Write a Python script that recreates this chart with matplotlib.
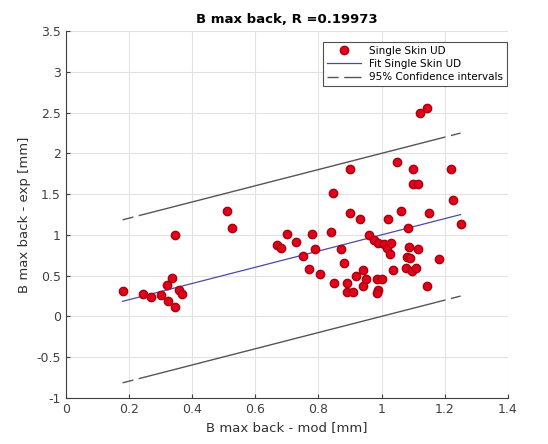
import numpy as np
import matplotlib.pyplot as plt

# measured points: model (x) vs experiment (y)
x_mod = [0.18, 0.245, 0.27, 0.30, 0.32, 0.335, 0.325, 0.345, 0.36, 0.368, 0.345,
         0.51, 0.525,
         0.67, 0.68, 0.70, 0.73, 0.75, 0.77, 0.78, 0.79, 0.805, 0.84, 0.845, 0.85,
         0.87, 0.88, 0.89, 0.89, 0.91, 0.90, 0.90, 0.92, 0.94, 0.94, 0.93, 0.95,
         0.96, 0.975, 0.985, 1.0, 0.99, 1.006, 0.99, 0.985, 1.017, 1.025, 1.03,
         1.02, 1.035, 1.05, 1.06, 1.085, 1.088, 1.115, 1.08, 1.09, 1.078, 1.095,
         1.11, 1.10, 1.10, 1.115, 1.145, 1.15, 1.18, 1.12, 1.145, 1.225, 1.22,
         1.25]
y_exp = [0.31, 0.27, 0.24, 0.26, 0.38, 0.47, 0.19, 0.12, 0.32, 0.27, 1.0,
         1.29, 1.08,
         0.88, 0.84, 1.01, 0.91, 0.74, 0.58, 1.01, 0.83, 0.52, 1.03, 1.51, 0.41,
         0.82, 0.65, 0.41, 0.30, 0.30, 1.81, 1.27, 0.50, 0.57, 0.37, 1.19, 0.46,
         1.00, 0.94, 0.46, 0.46, 0.90, 0.89, 0.32, 0.29, 0.84, 0.77, 0.90,
         1.19, 0.57, 1.89, 1.29, 1.08, 0.85, 0.82, 0.73, 0.71, 0.59, 0.56,
         0.59, 1.81, 1.62, 1.62, 0.37, 1.27, 0.70, 2.49, 2.56, 1.43, 1.81,
         1.13]

# fit and confidence band
fit_slope = 0.995
fit_intercept = 0.005
ci_half = 1.0

x_mod = np.array(x_mod)
y_exp = np.array(y_exp)
xf = np.array([x_mod.min(), x_mod.max()])
yf = fit_slope * xf + fit_intercept

fig = plt.figure(figsize=(5.48, 4.44), dpi=100)
ax = fig.add_axes([0.120, 0.104, 0.807, 0.826])

ax.plot(x_mod, y_exp, 'o', color='#e3001b', markeredgecolor='#a8000f',
        markersize=6, label='Single Skin UD', zorder=3)
ax.plot(xf, yf, color='#4a4aa8', linewidth=0.9, label='Fit Single Skin UD')
ax.plot(xf, yf + ci_half, color='#555555', linewidth=1.0,
        dashes=(8, 4, 228, 4), label='95% Confidence intervals')
ax.plot(xf, yf - ci_half, color='#555555', linewidth=1.0,
        dashes=(8, 4, 228, 4))

ax.set_xlim(0, 1.4)
ax.set_ylim(-1, 3.5)
ax.set_xticks(np.arange(0, 1.41, 0.2))
ax.set_xticklabels(['0', '0.2', '0.4', '0.6', '0.8', '1', '1.2', '1.4'])
ax.set_yticks(np.arange(-1, 3.51, 0.5))
ax.set_yticklabels(['-1', '-0.5', '0', '0.5', '1', '1.5', '2', '2.5', '3', '3.5'])
ax.grid(True, color='#e2e2e2', linewidth=0.8)
ax.set_axisbelow(True)
for s in ['top', 'right']:
    ax.spines[s].set_visible(False)
for s in ['left', 'bottom']:
    ax.spines[s].set_color('#404040')
ax.tick_params(direction='in', length=3, colors='#404040', labelsize=9,
               labelcolor='#404040')

ax.set_title('B max back, R =0.19973', fontsize=9.5, fontweight='bold', pad=6)
ax.set_xlabel('B max back - mod [mm]', fontsize=9.5, color='#303030')
ax.set_ylabel('B max back - exp [mm]', fontsize=9.5, color='#303030')

leg = ax.legend(loc='upper right', fontsize=7.5, fancybox=False,
                framealpha=1, edgecolor='#505050', handlelength=3.2,
                borderpad=0.4, labelspacing=0.3, bbox_to_anchor=(1.01, 0.985))
leg.get_frame().set_linewidth(0.8)

fig.savefig('out.png', dpi=100)
